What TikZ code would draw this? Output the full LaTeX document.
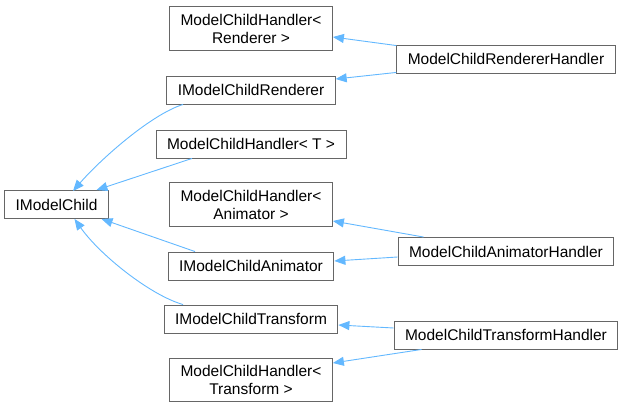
\documentclass[tikz,border=0pt]{standalone}
\usepackage{fontspec}
\setmainfont{Liberation Sans}
\usetikzlibrary{arrows.meta}
\definecolor{cedge}{HTML}{63B8FF}
\definecolor{cborder}{HTML}{666666}
\tikzset{
  cbox/.style={draw=cborder, fill=white, line width=0.9pt, align=center,
               inner xsep=11pt, inner ysep=7pt, minimum height=28pt,
               font=\fontsize{15.5}{18}\selectfont},
  inh/.style={-{Triangle[length=11pt,width=9pt]}, draw=cedge, line width=0.9pt},
}

\begin{document}
\begin{tikzpicture}[x=1pt, y=-1pt]
  \useasboundingbox (0,0) rectangle (624,409);
  % base class
  \node[cbox] (imodel) at (56.5,204.5) {IModelChild};
  % middle column
  \node[cbox] (hrend)  at (251,28.5) {ModelChildHandler<\\Renderer >};
  \node[cbox] (irend)  at (251,90)   {IModelChildRenderer};
  \node[cbox] (ht)     at (251,144)  {ModelChildHandler< T >};
  \node[cbox] (hanim)  at (251,204.5) {ModelChildHandler<\\Animator >};
  \node[cbox] (ianim)  at (251,266)  {IModelChildAnimator};
  \node[cbox] (itrans) at (251,319)  {IModelChildTransform};
  \node[cbox] (htrans) at (251,380)  {ModelChildHandler<\\Transform >};
  % right column
  \node[cbox] (rendh)  at (506,59)    {ModelChildRendererHandler};
  \node[cbox] (animh)  at (506,251.5) {ModelChildAnimatorHandler};
  \node[cbox] (transh) at (506,335)   {ModelChildTransformHandler};

  % inheritance edges
  \draw[inh] (irend.south) ++(-68pt,0) .. controls (150,115) and (100,160) .. (73,191);
  \draw[inh] ([xshift=-59pt]ht.south) -- ([xshift=40pt]imodel.north);
  \draw[inh] ([xshift=-56pt]ianim.north) -- ([xshift=45pt]imodel.south);
  \draw[inh] ([xshift=-68pt]itrans.north) .. controls (150,295) and (100,255) .. ([xshift=18pt]imodel.south);
  \draw[inh] ([yshift=-1pt]rendh.north west) -- ([yshift=-8.5pt]hrend.east);
  \draw[inh] ([yshift=1pt]rendh.south west) -- ([yshift=11pt]irend.east);
  \draw[inh] ([xshift=26pt]animh.north west) -- ([yshift=-16.5pt]hanim.east);
  \draw[inh] ([yshift=-5.5pt]animh.west) -- ([yshift=5pt]ianim.east);
  \draw[inh] ([yshift=7pt]transh.west) -- ([yshift=-6pt]itrans.east);
  \draw[inh] ([xshift=28pt]transh.south west) -- ([yshift=17pt]htrans.east);
\end{tikzpicture}
\end{document}
